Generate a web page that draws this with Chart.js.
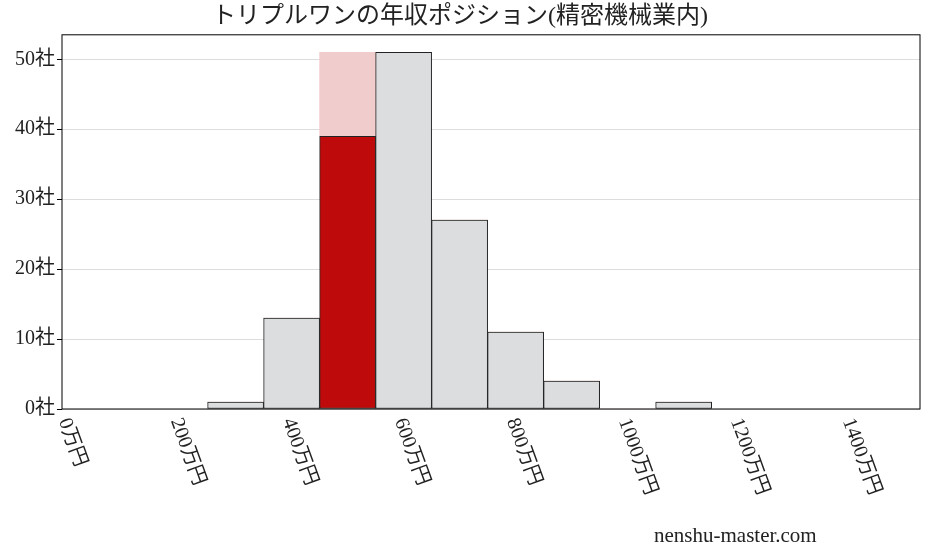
<!DOCTYPE html>
<html>
<head>
<meta charset="utf-8">
<script src="https://cdn.jsdelivr.net/npm/chart.js@4"></script>
<style>
body { margin: 0; background: #fff; }
#wrap { width: 927px; height: 557px; position: relative; }
</style>
</head>
<body>
<div id="wrap"><canvas id="histChart" width="927" height="557"></canvas></div>
<script>
// bins (万円, bin centre) and counts
var binCenters = [300, 400, 500, 600, 700, 800, 900, 1000, 1100];
var counts     = [1, 13, 0, 51, 27, 11, 4, 0, 1];
var ownBin = 500;
var ownCount = 39;
var ownBinTotal = 51;
var xTicks = [0, 200, 400, 600, 800, 1000, 1200, 1400];
var yTicks = [0, 10, 20, 30, 40, 50];

var FONT = "'Liberation Serif', 'Noto Sans CJK JP', serif";

var grayData = binCenters.map(function(x, i) { return { x: x, y: counts[i] }; });
var redData = binCenters.map(function(x) { return { x: x, y: x === ownBin ? ownCount : 0 }; });
var pinkData = binCenters.map(function(x) { return { x: x, y: x === ownBin ? ownBinTotal - ownCount : 0 }; });

// draw rotated (clockwise) x tick labels
var xLabels = {
    id: 'xLabels',
    afterDraw: function(chart) {
        var ctx = chart.ctx, sx = chart.scales.x, area = chart.chartArea;
        ctx.save();
        ctx.font = '20px ' + FONT;
        ctx.fillStyle = '#222';
        ctx.textAlign = 'left';
        ctx.textBaseline = 'middle';
        xTicks.forEach(function(v) {
            var px = sx.getPixelForValue(v);
            ctx.save();
            ctx.translate(px - 4, area.bottom + 10);
            ctx.rotate(70 * Math.PI / 180);
            ctx.fillText(v + '万円', 0, 0);
            ctx.restore();
        });
        ctx.strokeStyle = '#000';
        ctx.lineWidth = 1;
        ctx.strokeRect(area.left, area.top, area.right - area.left, area.bottom - area.top);
        ctx.restore();
    }
};

var ctxHist = document.getElementById('histChart').getContext('2d');
var histChart = new Chart(ctxHist, {
    type: 'bar',
    data: {
        datasets: [{
            data: grayData,
            backgroundColor: '#dcdddf',
            borderColor: '#222',
            borderWidth: 1
        }, {
            data: redData,
            backgroundColor: '#be0a0a',
            borderColor: '#222',
            borderWidth: 1
        }, {
            data: pinkData,
            backgroundColor: '#f1cccc',
            borderWidth: 0
        }]
    },
    plugins: [xLabels],
    options: {
        responsive: false,
        animation: false,
        devicePixelRatio: 1,
        layout: { padding: { left: 0, right: 7, top: 0, bottom: 140 } },
        datasets: { bar: { barPercentage: 1, categoryPercentage: 1, borderSkipped: false } },
        plugins: {
            legend: { display: false },
            tooltip: { enabled: false },
            title: {
                display: true,
                text: 'トリプルワンの年収ポジション(精密機械業内)',
                font: { family: FONT, size: 24, weight: 'normal' },
                color: '#222',
                padding: { top: 2, bottom: 4 }
            }
        },
        scales: {
            x: {
                type: 'linear',
                stacked: true,
                offset: false,
                min: -10,
                max: 1522,
                grid: { display: false },
                border: { display: false },
                ticks: { display: false }
            },
            y: {
                stacked: true,
                min: 0,
                max: 53.5,
                afterFit: function(s) { s.width = 62; },
                afterBuildTicks: function(s) { s.ticks = yTicks.map(function(v) { return { value: v }; }); },
                grid: { color: '#dddddd', drawTicks: true, tickLength: 5, tickColor: '#000' },
                border: { display: false },
                ticks: {
                    color: '#222',
                    padding: 2,
                    font: { family: FONT, size: 20 },
                    callback: function(v) { return v + '社'; }
                }
            }
        }
    }
});
</script>
<div style="position:absolute; left:654px; top:523px; font:21px 'Liberation Serif', serif; color:#222;">nenshu-master.com</div>
</body>
</html>
